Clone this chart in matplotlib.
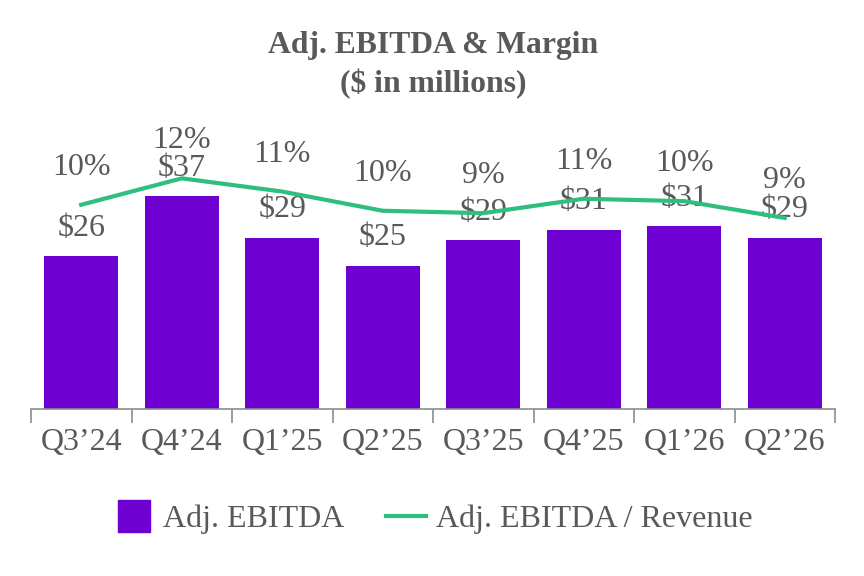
import matplotlib
matplotlib.use("Agg")
from matplotlib import pyplot as plt
from matplotlib.lines import Line2D
from matplotlib.ticker import FixedLocator

quarters = ["Q3\u201924", "Q4\u201924", "Q1\u201925", "Q2\u201925",
            "Q3\u201925", "Q4\u201925", "Q1\u201926", "Q2\u201926"]
ebitda = [26.3, 36.6, 29.4, 24.6, 29.0, 30.8, 31.4, 29.4]
margin = [10.1, 12.3, 11.2, 9.6, 9.4, 10.6, 10.4, 9.0]

PURPLE = "#6E00D2"
GREEN = "#2DBE80"
GREY = "#595959"

plt.rcParams["font.family"] = ["Liberation Serif", "DejaVu Serif"]

fig = plt.figure(figsize=(8.64, 5.76), dpi=100)
ax = fig.add_axes([31 / 864, 1 - 409 / 576, 804 / 864, 279 / 576])
ax2 = ax.twinx()

x = list(range(len(quarters)))
ax.bar(x, ebitda, width=0.74, color=PURPLE, zorder=2)
ax2.plot(x, margin, color=GREEN, linewidth=3, zorder=1)

ax.set_xlim(-0.5, len(quarters) - 0.5)
ax.set_ylim(0, 47.9)
ax2.set_ylim(-6.92, 16.33)

for s in ["top", "right", "left"]:
    ax.spines[s].set_visible(False)
for s in ax2.spines.values():
    s.set_visible(False)
ax.spines["bottom"].set_color("#8C8C8C")
ax.spines["bottom"].set_linewidth(1.2)
ax.set_yticks([])
ax2.set_yticks([])

ax.set_xticks(x)
ax.set_xticklabels(quarters, fontsize=23, color=GREY)
ax.tick_params(axis="x", which="major", length=0, pad=14)
ax.xaxis.set_minor_locator(FixedLocator([i - 0.5 for i in range(len(quarters) + 1)]))
ax.tick_params(axis="x", which="minor", length=10, width=1.2, color="#8C8C8C")

for xi, v in zip(x, ebitda):
    ax.annotate("${:.0f}".format(v), (xi, v), xytext=(0, 20), textcoords="offset points",
                ha="center", va="center", fontsize=23, color=GREY, zorder=5)
for xi, m in zip(x, margin):
    ax2.annotate("{:.0f}%".format(m), (xi, m), xytext=(0, 27), textcoords="offset points",
                 ha="center", va="center", fontsize=23, color=GREY, zorder=5)

fig.text(433 / 864, 1 - 45 / 576, "Adj. EBITDA & Margin", ha="center", va="center",
         fontsize=22.8, fontweight="bold", color=GREY)
fig.text(433 / 864, 1 - 84 / 576, "($ in millions)", ha="center", va="center",
         fontsize=22.8, fontweight="bold", color=GREY)

handles = [Line2D([0], [0], linestyle="none", marker="s", markersize=23,
                  markerfacecolor=PURPLE, markeredgecolor=PURPLE),
           Line2D([0], [0], color=GREEN, linewidth=3)]
fig.legend(handles, ["Adj. EBITDA", "Adj. EBITDA / Revenue"], loc="center",
           bbox_to_anchor=(433 / 864, 1 - 519 / 576), ncol=2, frameon=False,
           fontsize=23, labelcolor=GREY, handlelength=1.25,
           columnspacing=1.3, handletextpad=0.3)

fig.savefig("out.png", dpi=100)
